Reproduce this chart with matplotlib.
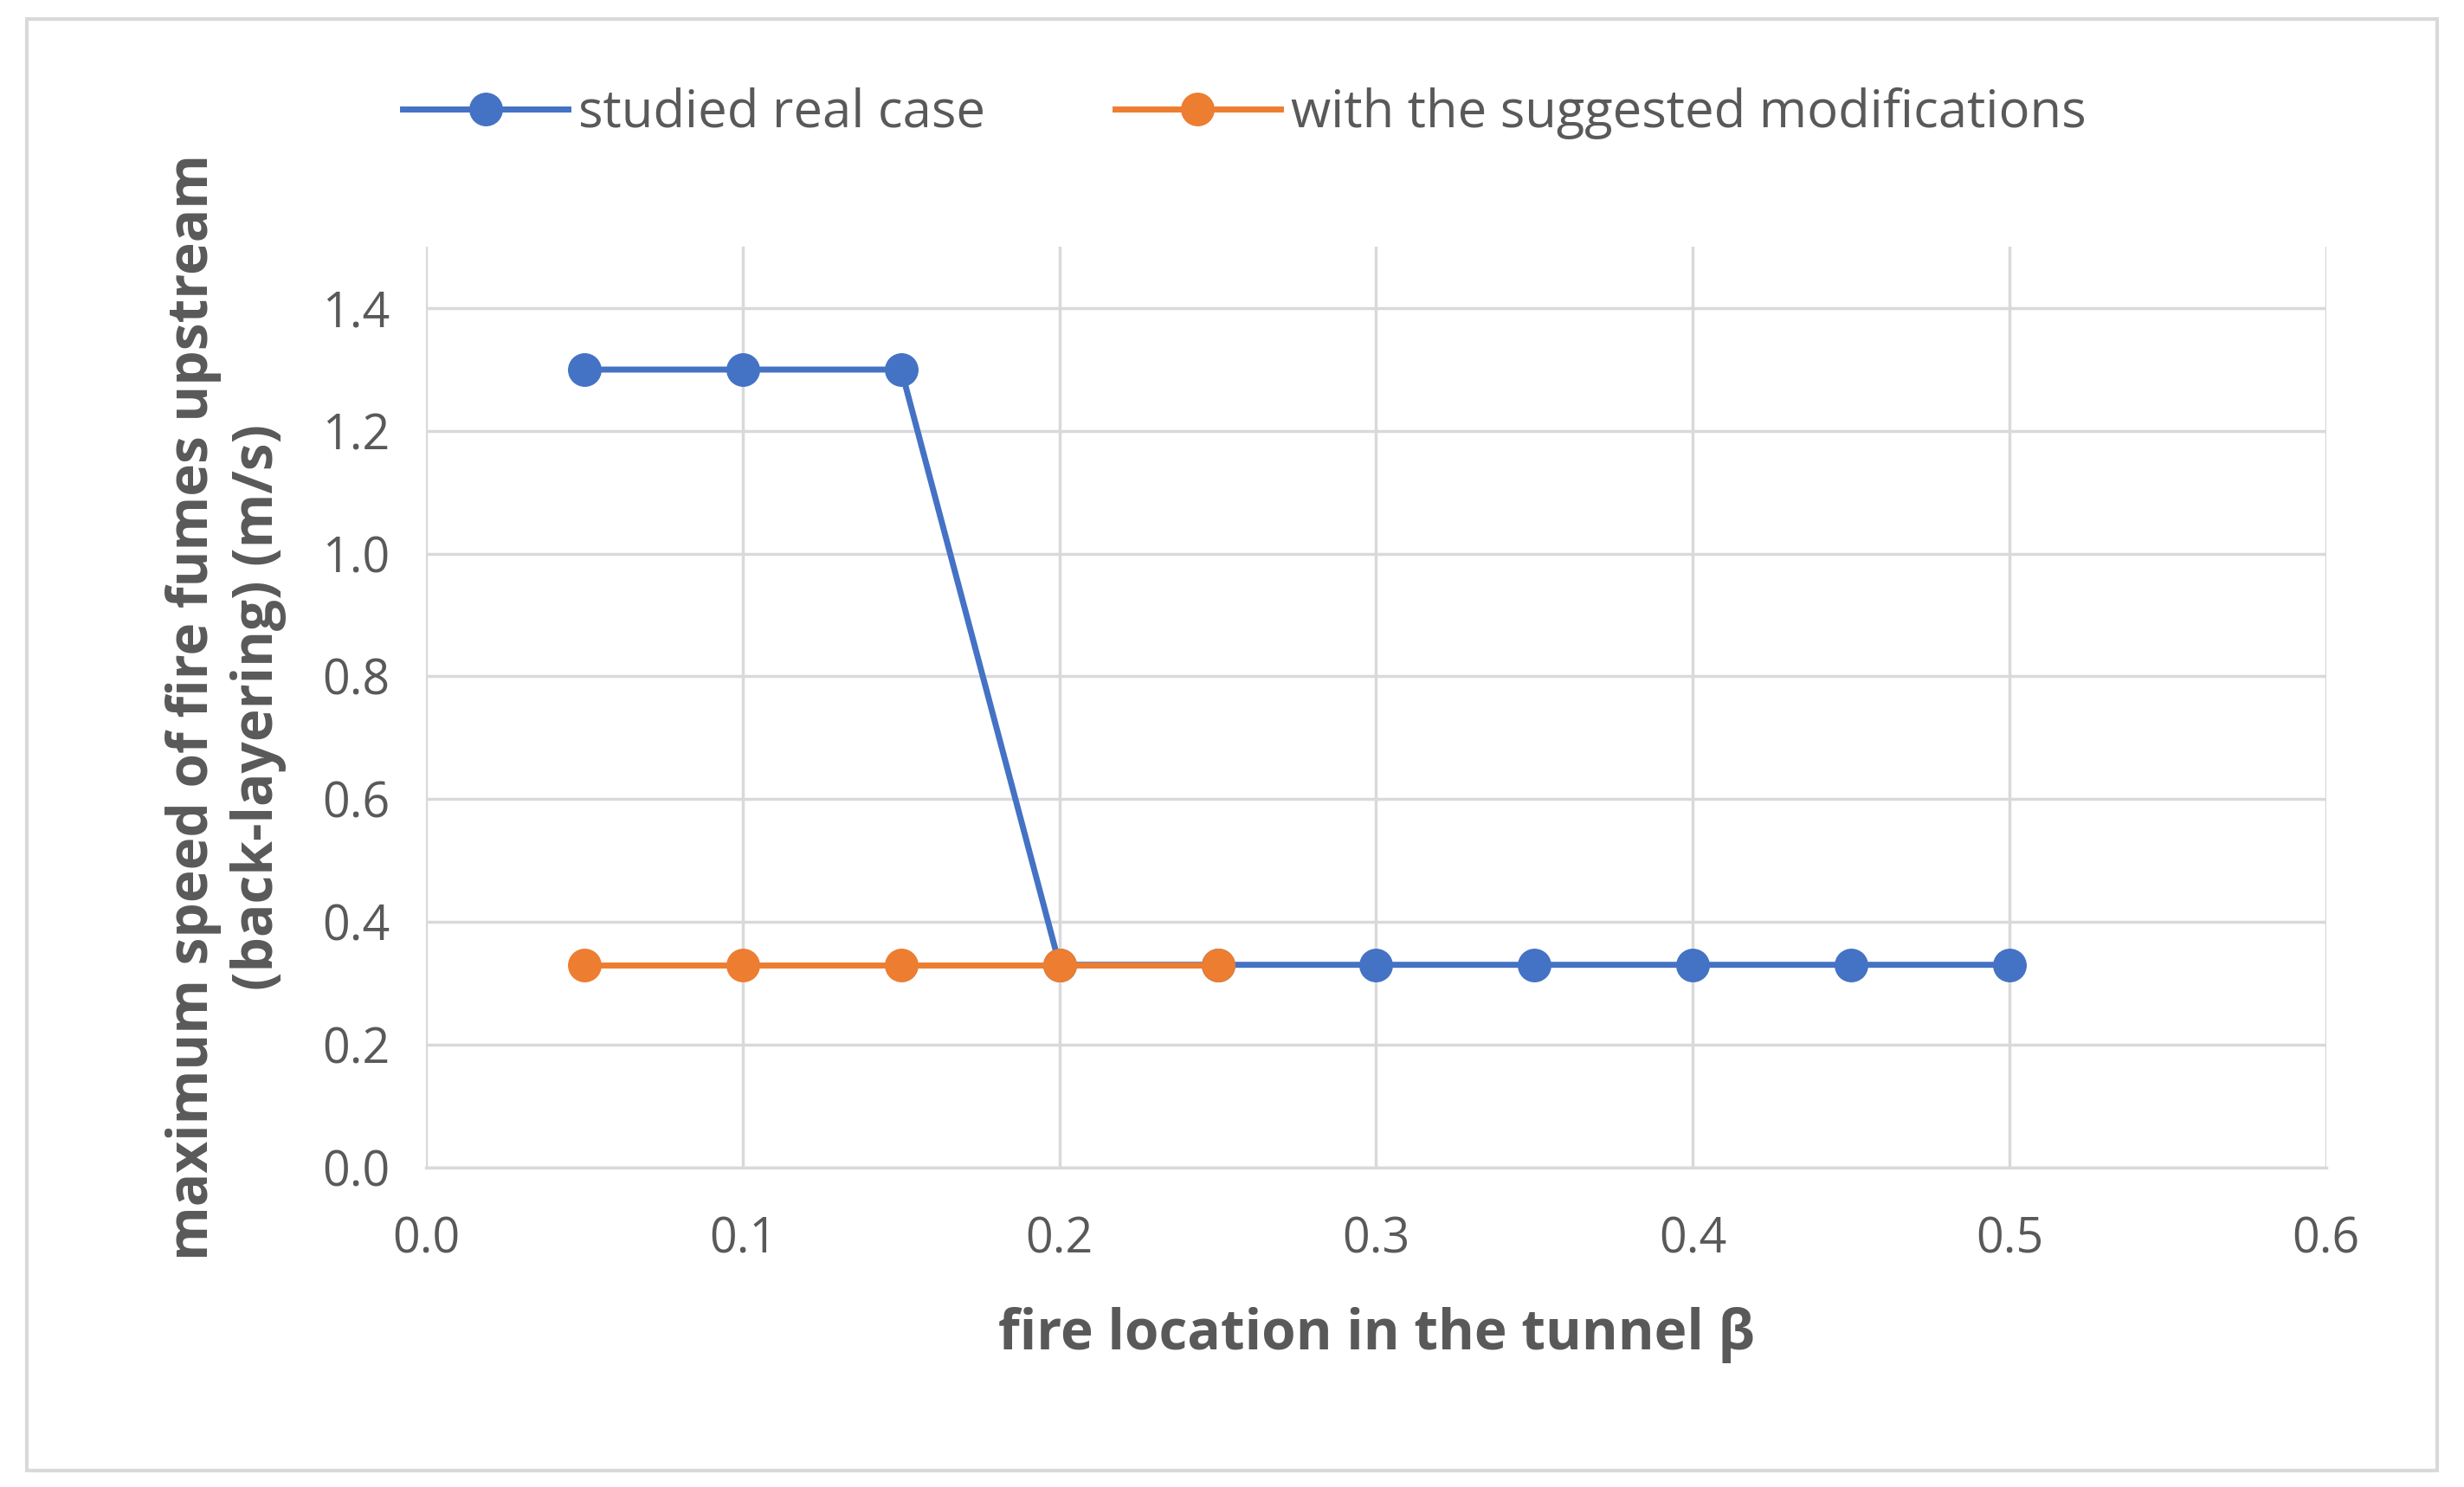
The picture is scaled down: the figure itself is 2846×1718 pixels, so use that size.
import matplotlib
matplotlib.use("Agg")
import matplotlib.pyplot as plt
from matplotlib.patches import Rectangle

plt.rcParams['font.family'] = ['Open Sans', 'DejaVu Sans']

beta_real = [0.05, 0.1, 0.15, 0.2, 0.25, 0.3, 0.35, 0.4, 0.45, 0.5]
speed_real = [1.3, 1.3, 1.3, 0.33, 0.33, 0.33, 0.33, 0.33, 0.33, 0.33]
beta_mod = [0.05, 0.1, 0.15, 0.2, 0.25]
speed_mod = [0.33, 0.33, 0.33, 0.33, 0.33]
xticks = [0.0, 0.1, 0.2, 0.3, 0.4, 0.5, 0.6]
yticks = [0.0, 0.2, 0.4, 0.6, 0.8, 1.0, 1.2, 1.4]

fig = plt.figure(figsize=(28.46, 17.18), dpi=100)
fig.patches.append(Rectangle((0.011, 0.011), 0.978, 0.976, transform=fig.transFigure,
                             fill=False, edgecolor='#d9d9d9', linewidth=3))
ax = fig.add_axes([0.173, 0.215, 0.771, 0.619])
ax.plot(beta_real, speed_real, color='#4472C4', lw=5, marker='o', ms=27,
        label='studied real case', zorder=3)
ax.plot(beta_mod, speed_mod, color='#ED7D31', lw=5, marker='o', ms=27,
        label='with the suggested modifications', zorder=4)
ax.set_xlim(0, 0.6)
ax.set_ylim(0, 1.5)
ax.set_xticks(xticks)
ax.set_xticklabels([f"{v:.1f}" for v in xticks])
ax.set_yticks(yticks)
ax.set_yticklabels([f"{v:.1f}" for v in yticks])
ax.grid(True, color='#d9d9d9', lw=2.5)
ax.set_axisbelow(True)
for s in ['top', 'right', 'left']:
    ax.spines[s].set_visible(False)
ax.spines['bottom'].set_color('#d9d9d9')
ax.spines['bottom'].set_linewidth(2.5)
ax.tick_params(length=0, labelsize=40, labelcolor='#595959')
ax.tick_params(axis='x', pad=40)
ax.tick_params(axis='y', pad=30)
ax.set_xlabel('fire location in the tunnel β', fontsize=46, fontweight='bold',
              color='#595959', labelpad=35)
ax.set_ylabel('maximum speed of fire fumes upstream\n(back-layering) (m/s)', fontsize=46,
              fontweight='bold', color='#595959', labelpad=30)
ax.legend(loc='center', bbox_to_anchor=(0.505, 0.924), bbox_transform=fig.transFigure,
          ncol=2, frameon=False, fontsize=43, labelcolor='#595959',
          handlelength=3.2, columnspacing=2.5, handletextpad=0.2)
fig.savefig('out.png', dpi=100)
